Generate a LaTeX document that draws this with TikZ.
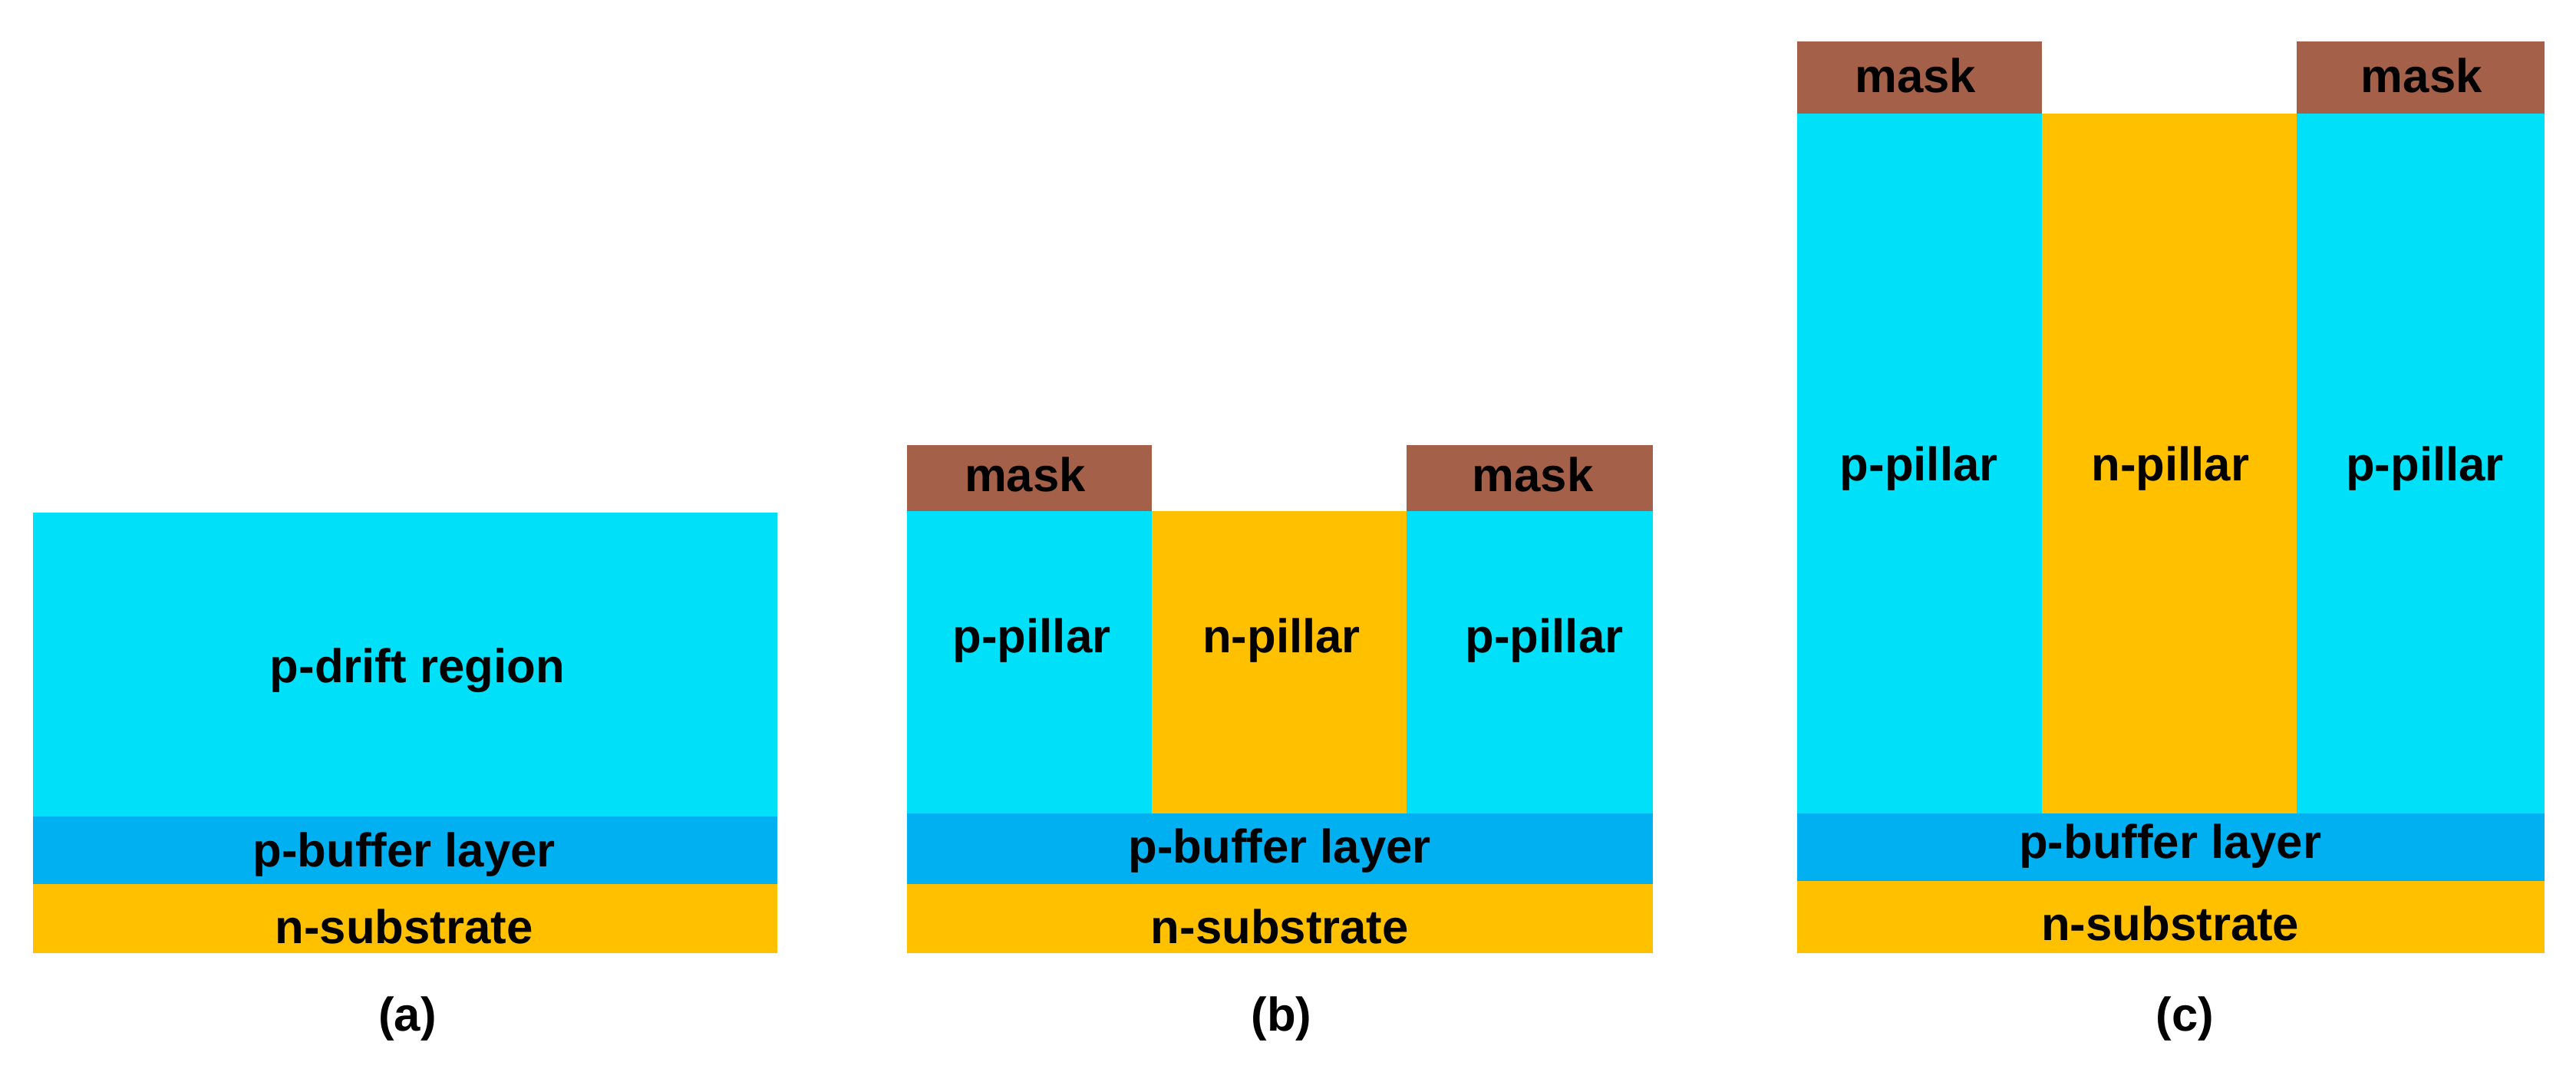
\documentclass[tikz,border=0pt]{standalone}
\usepackage{fontspec}
\setmainfont{Liberation Sans}
\definecolor{pc}{HTML}{00E0F8}
\definecolor{bc}{HTML}{00B0F0}
\definecolor{nc}{HTML}{FFC000}
\definecolor{mc}{HTML}{A5604A}
\begin{document}
\begin{tikzpicture}[x=0.05cm,y=-0.05cm,
  lab/.style={font=\fontsize{41}{48}\selectfont\bfseries},
  p/.style={fill=pc},b/.style={fill=bc},n/.style={fill=nc},m/.style={fill=mc}]
\useasboundingbox (0,0) rectangle (1568,650.6);
% (a)
\fill[p] (20,312) rectangle (473,497);
\fill[b] (20,497) rectangle (473,538);
\fill[n] (20,538) rectangle (473,580);
\node[lab] (a1) at (254,408) {p-drift region};
\node[lab] (a2) at (246,520) {p-buffer layer};
\node[lab] (a3) at (246,564) {n-substrate};
\node[lab] (al) at (248,620) {(a)};
% (b)
\fill[m] (552,271) rectangle (701,311);
\fill[m] (856,271) rectangle (1006,311);
\fill[p] (552,311) rectangle (701,495);
\fill[n] (701,311) rectangle (856,495);
\fill[p] (856,311) rectangle (1006,495);
\fill[b] (552,495) rectangle (1006,538);
\fill[n] (552,538) rectangle (1006,580);
\node[lab] (b1) at (624,289) {mask};
\node[lab] (b2) at (933,289) {mask};
\node[lab] (b3) at (628,390) {p-pillar};
\node[lab] (b4) at (780,390) {n-pillar};
\node[lab] (b5) at (940,390) {p-pillar};
\node[lab] (b6) at (779,518) {p-buffer layer};
\node[lab] (b7) at (779,564) {n-substrate};
\node[lab] (bl) at (780,620) {(b)};
% (c)
\fill[m] (1094,25) rectangle (1243,69);
\fill[m] (1398,25) rectangle (1549,69);
\fill[p] (1094,69) rectangle (1243,495);
\fill[n] (1243,69) rectangle (1398,495);
\fill[p] (1398,69) rectangle (1549,495);
\fill[b] (1094,495) rectangle (1549,536);
\fill[n] (1094,536) rectangle (1549,580);
\node[lab] (c1) at (1166,46) {mask};
\node[lab] (c2) at (1474,46) {mask};
\node[lab] (c3) at (1168,285) {p-pillar};
\node[lab] (c4) at (1321,285) {n-pillar};
\node[lab] (c5) at (1476,285) {p-pillar};
\node[lab] (c6) at (1321,515) {p-buffer layer};
\node[lab] (c7) at (1321,562) {n-substrate};
\node[lab] (cl) at (1330,620) {(c)};
\end{tikzpicture}
\end{document}
